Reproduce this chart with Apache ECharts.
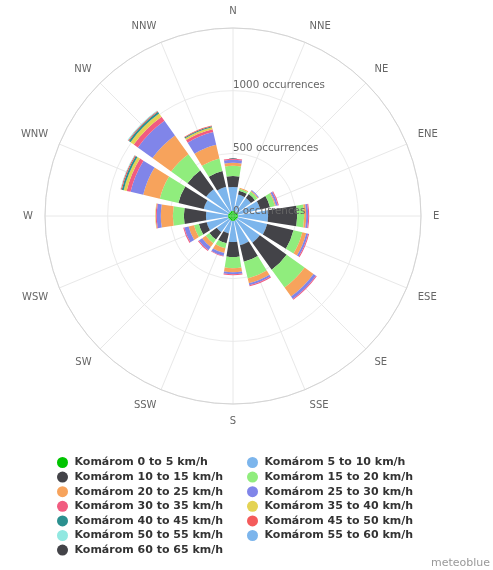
<!DOCTYPE html>
<html><head><meta charset="utf-8">
<script src="https://cdn.jsdelivr.net/npm/echarts@6/dist/echarts.min.js"></script>
<style>html,body{margin:0;padding:0;background:#fff}#c{width:493px;height:570px}</style>
</head><body><div id="c"></div>
<script>
const directions = ['N','NNE','NE','ENE','E','ESE','SE','SSE','S','SSW','SW','WSW','W','WNW','NW','NNW'];
const speedBins = ['0 to 5 km/h','5 to 10 km/h','10 to 15 km/h','15 to 20 km/h','20 to 25 km/h','25 to 30 km/h','30 to 35 km/h','35 to 40 km/h','40 to 45 km/h','45 to 50 km/h','50 to 55 km/h','55 to 60 km/h','60 to 65 km/h'];
const radialTicks = [0, 500, 1000, 1500];
// occurrences per direction (N .. NNW)
const v0_5   = [40,40,40,40,40,40,40,40,40,40,40,40,40,40,40,40];
const v5_10  = [192,136,136,184,240,240,224,200,168,104,120,176,176,200,224,200];
const v10_15 = [88,32,40,80,232,216,264,136,120,80,72,64,176,208,184,128];
const v15_20 = [80,16,24,40,56,72,176,136,88,40,36,40,88,152,160,104];
const v20_25 = [24,8,8,8,16,32,88,40,32,40,36,44,96,136,184,112];
const v25_30 = [24,0,8,16,16,16,24,16,16,24,32,36,32,104,144,104];
const v30_35 = [8,0,0,8,8,8,8,8,8,4,8,8,8,32,40,24];
const v35_40 = [0,0,0,0,0,0,0,0,0,0,0,0,4,24,32,16];
const v40_45 = [0,0,0,0,0,0,0,0,0,0,0,0,0,16,16,8];
const v45_50 = [0,0,0,0,0,0,0,0,0,0,0,0,0,8,8,6];
const v50_55 = [0,0,0,0,0,0,0,0,0,0,0,0,0,4,6,0];
const v55_60 = [0,0,0,0,0,0,0,0,0,0,0,0,0,0,0,0];
const v60_65 = [0,0,0,0,0,0,0,0,0,0,0,0,0,0,0,0];
const seriesValues = [v0_5,v5_10,v10_15,v15_20,v20_25,v25_30,v30_35,v35_40,v40_45,v45_50,v50_55,v55_60,v60_65];
const colors = ['#00c400','#7cb5ec','#434348','#90ed7d','#f7a35c','#8085e9','#f15c80','#e4d354','#2b908f','#f45b5b','#91e8e1','#7cb5ec','#434348'];

const names = speedBins.map(s => 'Komárom ' + s);
const FONT = 'DejaVu Sans';
const C = [233, 216], R = 188;

const chart = echarts.init(document.getElementById('c'), null, {renderer: 'canvas'});
const legendText = {fontFamily: FONT, fontWeight: 'bold', fontSize: 11, color: '#333333', lineHeight: 11};
const option = {
  backgroundColor: '#ffffff',
  animation: false,
  color: colors,
  title: {text: 'meteoblue', right: 3, bottom: 1, padding: 0,
          textStyle: {fontFamily: FONT, fontSize: 11, fontWeight: 'normal', color: '#999999'}},
  polar: [{center: C, radius: R}, {center: C, radius: R}, {center: C, radius: R}],
  angleAxis: [
    {polarIndex: 0, type: 'category', data: directions, startAngle: 90 + 11.25, clockwise: true,
     axisLine: {show: false}, axisTick: {show: false}, splitLine: {show: false},
     axisLabel: {color: '#666666', fontSize: 10, fontFamily: FONT, margin: 12}},
    {polarIndex: 1, type: 'value', min: 0, max: 360, interval: 22.5, startAngle: 90, clockwise: true,
     axisLine: {show: true, lineStyle: {color: '#d4d4d4', width: 1}}, axisTick: {show: false}, axisLabel: {show: false},
     splitLine: {show: true, lineStyle: {color: '#e8e8e8', width: 1}}},
    {polarIndex: 2, type: 'value', min: 0, max: 360, startAngle: 90, show: false}
  ],
  radiusAxis: [
    {polarIndex: 0, type: 'value', min: radialTicks[0], max: radialTicks[3], show: false},
    {polarIndex: 1, type: 'value', min: radialTicks[0], max: radialTicks[3], interval: 500,
     axisLine: {show: false}, axisTick: {show: false}, axisLabel: {show: false},
     splitLine: {show: true, lineStyle: {color: '#ebebeb', width: 1}}},
    {polarIndex: 2, type: 'value', min: radialTicks[0], max: radialTicks[3], interval: 500, z: 10,
     axisLine: {show: false}, axisTick: {show: false}, splitLine: {show: false},
     axisLabel: {formatter: v => v + ' occurrences', showMaxLabel: false, align: 'left', verticalAlign: 'bottom',
                 margin: 0, color: '#666666', fontSize: 10.3, fontFamily: FONT}}
  ],
  legend: [
    {orient: 'vertical', left: 57, top: 457, padding: 0, itemWidth: 14, itemHeight: 11, itemGap: 3.6, icon: 'circle',
     data: names.filter((n, i) => i % 2 === 0), textStyle: legendText, selectedMode: false},
    {orient: 'vertical', left: 247, top: 457, padding: 0, itemWidth: 14, itemHeight: 11, itemGap: 3.6, icon: 'circle',
     data: names.filter((n, i) => i % 2 === 1), textStyle: legendText, selectedMode: false}
  ],
  series: seriesValues.map((vals, i) => ({
    name: names[i], type: 'bar', coordinateSystem: 'polar', polarIndex: 0, stack: 'wind',
    barCategoryGap: '18%', data: vals, itemStyle: {color: colors[i]}, z: 3
  }))
};
chart.setOption(option);
</script></body></html>
